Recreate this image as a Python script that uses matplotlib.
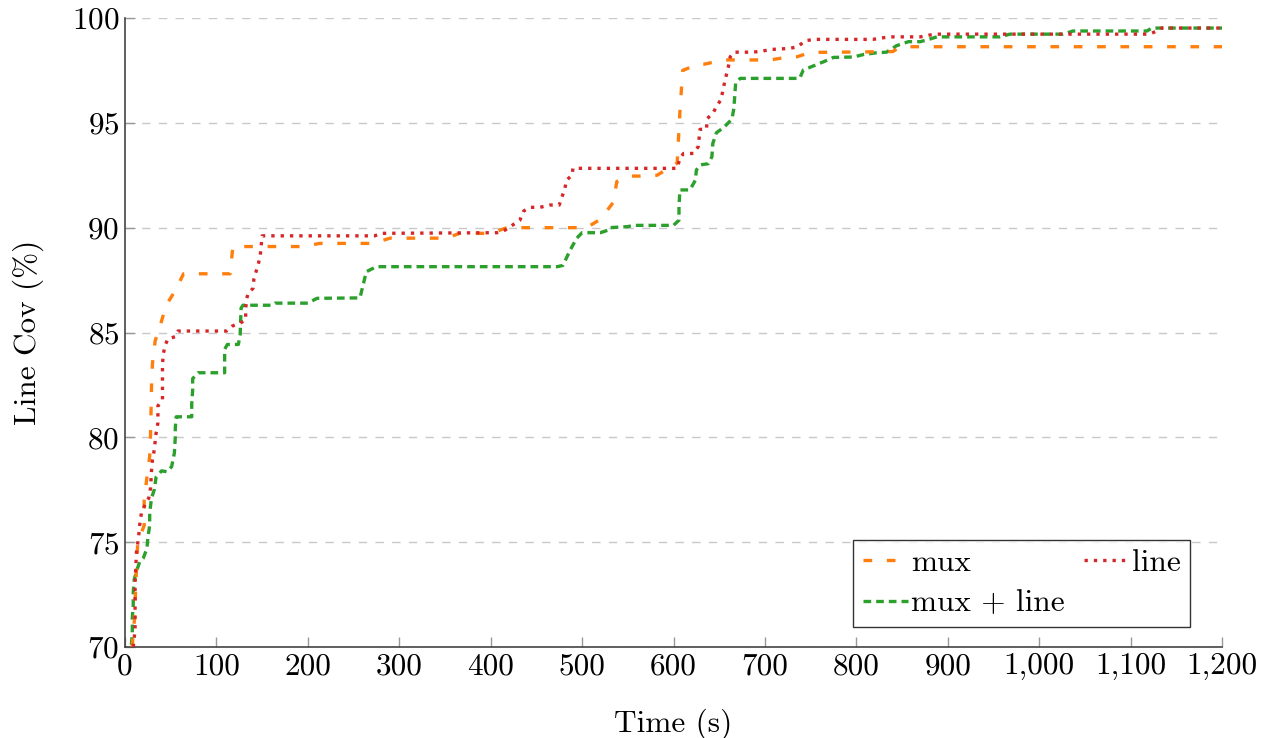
import matplotlib
matplotlib.use("Agg")
import matplotlib.pyplot as plt
from matplotlib.lines import Line2D

plt.rcParams['font.family'] = ['cmr10', 'DejaVu Serif']
plt.rcParams['mathtext.fontset'] = 'cm'
plt.rcParams['axes.formatter.use_mathtext'] = True

# ---------------- data ----------------
mux_t = [8, 9, 11, 11.5, 14, 21, 21, 24, 27, 28, 28.5, 29, 30, 33, 39, 45, 55, 64,
         115, 118, 195, 213, 271, 290, 352, 366, 400, 418, 505, 520, 534, 538, 552,
         563, 582, 604, 607, 610, 627, 634, 655, 706, 727, 735, 750, 807, 840, 848, 1200]
mux_cov = [70.0, 70.7, 71.6, 72.8, 75.0, 75.8, 77.0, 78.1, 79.1, 80.2, 81.3, 82.4, 83.5,
           84.6, 85.4, 86.3, 87.0, 87.8, 87.8, 89.1, 89.1, 89.25, 89.25, 89.5, 89.5,
           89.73, 89.73, 90.0, 90.0, 90.4, 91.2, 92.2, 92.46, 92.46, 92.5, 93.08, 95.5,
           97.5, 97.8, 97.8, 98.0, 98.0, 98.15, 98.15, 98.36, 98.38, 98.4, 98.63, 98.63]

line_t = [9, 11, 11, 11, 12.5, 15, 16, 18, 23, 26, 28, 29, 30, 32, 34, 36, 36, 36, 41,
          41, 41, 41, 42, 44, 47, 55, 58, 111, 117, 126, 132, 132, 133, 135, 140, 141,
          146, 148, 150, 273, 281, 407, 416, 432, 436, 443, 454, 465, 475, 478, 481,
          483, 489, 490, 604, 607, 611, 622, 627, 628, 629, 636, 637, 643, 647, 652,
          654, 656, 660, 662, 666, 687, 698, 707, 727, 736, 744, 755, 818, 828, 837,
          870, 879, 888, 1121, 1127, 1134, 1200]
line_cov = [70.0, 70.8, 72.2, 73.0, 74.5, 75.3, 75.8, 76.4, 76.9, 77.1, 77.6, 78.4, 78.9,
            79.4, 80.2, 80.7, 81.1, 81.5, 81.8, 82.6, 83.1, 83.5, 84.0, 84.4, 84.7, 84.8,
            85.07, 85.07, 85.3, 85.45, 85.6, 86.1, 86.6, 86.9, 87.1, 87.55, 88.3, 88.7,
            89.61, 89.61, 89.73, 89.76, 89.89, 90.36, 90.79, 90.97, 90.97, 91.08, 91.08,
            91.47, 91.83, 92.27, 92.5, 92.83, 92.83, 93.3, 93.54, 93.54, 93.86, 94.26,
            94.69, 94.69, 95.21, 95.45, 95.77, 96.12, 96.53, 96.96, 97.67, 98.15, 98.37,
            98.37, 98.43, 98.5, 98.55, 98.63, 98.92, 98.98, 98.98, 99.05, 99.1, 99.1,
            99.18, 99.23, 99.23, 99.35, 99.52, 99.52]

both_t = [7, 8, 8, 9, 9, 10, 13, 16, 20, 24, 25, 27, 27, 29, 32, 34, 40, 46, 51, 54, 55,
          55, 56, 73, 73, 74, 74, 80, 109, 109, 109, 112, 124, 126, 126.5, 127, 129, 161,
          164, 200, 210, 257, 264, 275, 473, 479, 487, 494, 500, 520, 529, 530, 550, 556,
          600, 606, 606, 607, 618, 624, 625, 630, 638, 642, 643, 647, 655, 664, 666, 667,
          668, 673, 738, 742, 755, 764, 775, 797, 808, 822, 833, 844, 857, 870, 883, 888,
          957, 968, 1026, 1037, 1118, 1123, 1200]
both_cov = [70.1, 70.7, 71.4, 72.0, 72.6, 73.2, 73.67, 74.05, 74.24, 74.7, 75.2, 75.8,
            76.4, 77.1, 77.5, 78.1, 78.4, 78.36, 78.6, 79.25, 80.0, 80.44, 80.98, 80.98,
            81.6, 82.25, 82.8, 83.08, 83.08, 83.7, 84.2, 84.43, 84.43, 84.9, 85.6, 86.16,
            86.3, 86.3, 86.4, 86.4, 86.63, 86.65, 87.9, 88.14, 88.14, 88.2, 88.93, 89.49,
            89.76, 89.76, 89.89, 90.0, 90.05, 90.11, 90.11, 90.36, 91.0, 91.8, 91.8, 92.27,
            92.75, 93.0, 93.05, 93.38, 94.02, 94.53, 94.78, 95.18, 95.69, 96.28, 96.91,
            97.12, 97.12, 97.52, 97.75, 97.91, 98.12, 98.14, 98.26, 98.34, 98.37, 98.68,
            98.87, 98.87, 99.03, 99.1, 99.1, 99.23, 99.23, 99.38, 99.38, 99.52, 99.52]

x_ticks = [0, 100, 200, 300, 400, 500, 600, 700, 800, 900, 1000, 1100, 1200]
x_tick_labels = ["0", "100", "200", "300", "400", "500", "600", "700", "800", "900",
                 "1,000", "1,100", "1,200"]
y_ticks = [70, 75, 80, 85, 90, 95, 100]

# ---------------- figure ----------------
fig = plt.figure(figsize=(12.67, 7.38), dpi=100)
ax = fig.add_axes([125 / 1267, 1 - 647 / 738, 1097 / 1267, 629 / 738])

lw = 2.4
fs = 22.5
orange, red, green = '#ff7f0e', '#d62728', '#2ca02c'

for yv in y_ticks:
    ax.axhline(yv, color='#c8c8c8', lw=1.0, dashes=(6, 6), zorder=0)

l_mux, = ax.plot(mux_t, mux_cov, color=orange, lw=lw, dashes=(2.6, 4.4),
                 label='mux', zorder=3)
l_line, = ax.plot(line_t, line_cov, color=red, lw=lw, dashes=(1.0, 1.8),
                  label='line', zorder=4)
l_both, = ax.plot(both_t, both_cov, color=green, lw=lw, dashes=(2.3, 1.5),
                  label='mux + line', zorder=2)

ax.set_xlim(0, 1200)
ax.set_ylim(70, 100)
ax.set_xticks(x_ticks)
ax.set_xticklabels(x_tick_labels)
ax.set_yticks(y_ticks)
ax.tick_params(direction='in', length=7, width=1, color='#999999',
               labelsize=fs, pad=4)
for s in ['top', 'right']:
    ax.spines[s].set_visible(False)
for s in ['left', 'bottom']:
    ax.spines[s].set_color('#444444')
    ax.spines[s].set_linewidth(1.2)

ax.set_xlabel('Time (s)', fontsize=fs, labelpad=20)
ax.set_ylabel('Line Cov (%)', fontsize=fs, labelpad=20)

leg = ax.legend(handles=[l_mux, l_both, l_line], labels=['mux', 'mux + line', 'line'],
                ncol=2, loc='lower right', bbox_to_anchor=(0.971, 0.032),
                borderaxespad=0, fontsize=fs, frameon=True, fancybox=False,
                edgecolor='black', handlelength=1.45, handletextpad=0.1,
                columnspacing=0.6, labelspacing=0.4, borderpad=0.3)
leg.get_frame().set_linewidth(1.0)

fig.savefig('out.png', dpi=100)
